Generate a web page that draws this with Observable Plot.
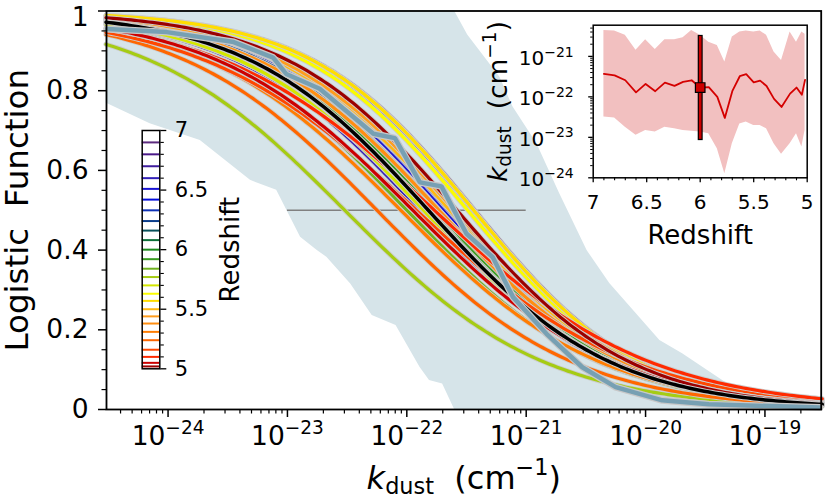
<!DOCTYPE html>
<html><head><meta charset="utf-8">
<script src="https://cdn.jsdelivr.net/npm/d3@7"></script>
<script src="https://cdn.jsdelivr.net/npm/@observablehq/plot@0.6"></script>
<style>
html,body{margin:0;padding:0;background:#fff;}
#wrap{position:relative;width:829px;height:499px;font-family:"DejaVu Sans";}
#wrap svg{position:absolute;}
</style></head><body><div id="wrap"></div>
<script>
// ---- data ----
const redshift = [6.90,6.80,6.70,6.60,6.51,6.42,6.33,6.24,6.16,6.08,6.00,5.92,5.84,5.77,5.70,5.63,5.57,5.50,5.44,5.38,5.31,5.24,5.16,5.10,5.05,5.02];
const logK50   = [-21.43,-21.47,-21.59,-21.89,-21.68,-21.86,-21.65,-21.73,-21.63,-21.59,-21.77,-21.76,-22.00,-22.52,-21.86,-21.49,-21.44,-21.64,-21.60,-21.73,-22.05,-22.25,-21.92,-21.77,-21.95,-21.58];
const slopes   = [0.63,0.63,0.60,0.55,0.58,0.55,0.58,0.57,0.58,0.60,0.56,0.56,0.54,0.52,0.55,0.62,0.63,0.58,0.58,0.56,0.52,0.53,0.48,0.48,0.52,0.60];
const logKUpper= [-20.36,-20.37,-20.48,-20.85,-20.59,-20.83,-20.59,-20.59,-20.54,-20.36,-20.48,-20.65,-20.73,-21.14,-20.52,-20.40,-20.37,-20.40,-20.37,-20.48,-20.89,-21.10,-20.40,-20.65,-20.40,-20.45];
const logKLower= [-22.50,-22.52,-22.75,-22.95,-22.83,-22.87,-22.75,-22.79,-22.83,-22.85,-22.87,-22.91,-23.28,-23.90,-23.16,-22.67,-22.62,-22.71,-22.71,-22.79,-23.16,-23.42,-23.16,-22.91,-23.24,-22.83];
const combinedLogK50 = -21.82, combinedSlope = 0.57;
const errZ = 6.0, errLogK = -21.77, errLogLo = -23.05, errLogHi = -20.51;

const medLogK = [-24.51,-24.01,-23.45,-23.12,-23.01,-22.73,-22.28,-22.10,-21.89,-21.71,-21.50,-21.28,-21.11,-20.83,-20.53,-20.25,-19.86,-19.47,-18.54];
const medF    = [0.955,0.947,0.922,0.883,0.842,0.805,0.692,0.681,0.570,0.560,0.441,0.382,0.282,0.190,0.106,0.056,0.023,0.013,0.005];

const bandUpperLogK = [-24.52,-21.60,-21.49,-21.22,-21.11,-20.91,-20.72,-20.49,-20.30,-19.88,-19.69,-19.27,-18.99,-18.53];
const bandUpperF    = [1,1,0.94,0.834,0.759,0.667,0.542,0.399,0.316,0.173,0.140,0.056,0.031,0.0125];
const bandLowerLogK = [-24.52,-24.15,-23.73,-23.31,-23.09,-22.89,-22.75,-22.67,-22.47,-22.29,-22.09,-21.89,-21.81,-21.70,-21.60,-18.53];
const bandLowerF    = [0.769,0.717,0.675,0.575,0.550,0.432,0.399,0.382,0.315,0.236,0.211,0.106,0.073,0.064,0,0];

const xMajorTicks = [1e-24,1e-23,1e-22,1e-21,1e-20,1e-19];
const yMajorTicks = [0,0.2,0.4,0.6,0.8,1];
const yTickLabels = ["0","0.2","0.4","0.6","0.8","1"];
const insetXTicks = [7,6.5,6,5.5,5];
const insetYTicks = [1e-24,1e-23,1e-22,1e-21];
const cbarTicks = [5,5.5,6,6.5,7];

const colorStops = [5.0,5.05,5.1,5.2,5.3,5.45,5.55,5.62,5.72,5.8,5.9,6.0,6.1,6.17,6.25,6.35,6.45,6.55,6.65,6.8,6.9,7.0];
const colorRange = ["#7a0000","#cc0000","#ff2a00","#ff5a00","#ff7a00","#ffa020","#ffd000","#ffff00","#c8e000","#90c020","#40a020","#1a8a1a","#0a6a40","#0a4d60","#0a3a90","#1030c0","#0000e8","#2a20c8","#3a20a8","#4a1888","#5c2a7e","#602070"];

// ---- helpers ----
function logMinor(lo, hi) {
  const out = [];
  for (let n = -26; n <= -17; n++) for (let m = 2; m <= 9; m++) { const v = m * Math.pow(10, n); if (v >= lo && v <= hi) out.push(v); }
  return out;
}
function linMinor(a, b, step, majors) {
  const out = [];
  for (let v = a; v <= b + 1e-9; v += step) { const r = Math.round(v * 1000) / 1000; if (!majors.some(m => Math.abs(m - r) < 1e-9)) out.push(r); }
  return out;
}
const sup = d => `10{sup:−${-Math.round(Math.log10(d))}}`;
const logistic = (l, l50, s) => 1 / (1 + Math.pow(10, s * (l - l50)));
const grid = d3.range(-24.52, -18.50, 0.03);

const xDomain = [3.05e-25, 2.96e-19];
const colorScale = {type: "linear", domain: colorStops, range: colorRange, interpolate: "rgb"};
const baseStyle = {fontFamily: "DejaVu Sans", background: "transparent", overflow: "visible"};

// ---- main plot ----
const upperPts = bandUpperLogK.map((l, i) => ({k: 10 ** l, f: bandUpperF[i]}));
const lowerPts = bandLowerLogK.map((l, i) => ({k: 10 ** l, f: bandLowerF[i]}));
const medPts = medLogK.map((l, i) => ({k: 10 ** l, f: medF[i]}));

const curveMarks = [];
redshift.forEach((z, i) => {
  const pts = grid.map(l => ({k: 10 ** l, f: logistic(l, logK50[i], slopes[i]), z}));
  curveMarks.push(Plot.line(pts, {x: "k", y: "f", stroke: "#cccccc", strokeWidth: 5}));
  curveMarks.push(Plot.line(pts, {x: "k", y: "f", stroke: d => d.z, strokeWidth: 3.2}));
});
const blackPts = grid.map(l => ({k: 10 ** l, f: logistic(l, combinedLogK50, combinedSlope)}));

const main = Plot.plot({
  width: 829, height: 499,
  marginLeft: 106, marginRight: 8.3, marginTop: 10.5, marginBottom: 90,
  x: {type: "log", domain: xDomain},
  y: {domain: [0, 1]},
  color: colorScale,
  style: baseStyle,
  marks: [
    Plot.areaY(upperPts, {x: "k", y: "f", fill: "#d6e4e9"}),
    Plot.areaY(lowerPts, {x: "k", y: "f", fill: "white"}),
    Plot.ruleY([0.5], {x1: 1e-23, x2: 1e-21, stroke: "#808080", strokeWidth: 1.5}),
    ...curveMarks,
    Plot.line(blackPts, {x: "k", y: "f", stroke: "#cccccc", strokeWidth: 5.5}),
    Plot.line(blackPts, {x: "k", y: "f", stroke: "black", strokeWidth: 3.5}),
    Plot.line(medPts, {x: "k", y: "f", stroke: "#c8c8c8", strokeWidth: 7, strokeLinejoin: "miter"}),
    Plot.line(medPts, {x: "k", y: "f", stroke: "#77a0b3", strokeWidth: 4.5, strokeLinejoin: "miter"}),
    Plot.frame({stroke: "black", strokeWidth: 1.8}),
    Plot.axisX(xMajorTicks, {tickSize: 8, tickPadding: 9, fontSize: 26.5, strokeWidth: 1.5, tickFormat: sup, label: null}),
    Plot.axisX(logMinor(xDomain[0], xDomain[1]), {tickSize: 4.5, strokeWidth: 1.2, tickFormat: () => "", label: null}),
    Plot.axisY(yMajorTicks, {tickSize: 8, tickPadding: 10, fontSize: 26.5, strokeWidth: 1.5, tickFormat: d => yTickLabels[yMajorTicks.indexOf(d)], label: null}),
    Plot.axisY(linMinor(0, 1, 0.05, yMajorTicks), {tickSize: 4.5, strokeWidth: 1.2, tickFormat: () => "", label: null}),
    Plot.text(["{i:k}{sub:dust}  (cm{sup:−1})"], {frameAnchor: "bottom", textAnchor: "middle", lineAnchor: "middle", dy: 69, fontSize: 32}),
    Plot.text(["Logistic  Function"], {frameAnchor: "left", textAnchor: "middle", lineAnchor: "middle", dx: -88.5, rotate: -90, fontSize: 32.5})
  ]
});
main.style.left = "0px"; main.style.top = "0px";

// ---- colour bar ----
const cbar = Plot.plot({
  width: 150, height: 290,
  marginLeft: 41.7, marginRight: 90.7, marginTop: 30, marginBottom: 21.7,
  x: {domain: [0, 1], axis: null},
  y: {domain: [5, 7]},
  color: colorScale,
  style: baseStyle,
  marks: [
    Plot.frame({fill: "white"}),
    Plot.ruleY(redshift, {y: d => d, x1: 0, x2: 1, stroke: d => d, strokeWidth: 2}),
    Plot.frame({stroke: "black", strokeWidth: 1.5}),
    Plot.axisY(cbarTicks, {anchor: "right", tickSize: 6, tickPadding: 9, fontSize: 21, strokeWidth: 1.3, tickFormat: d => String(d), label: null}),
    Plot.axisY(linMinor(5, 7, 0.1, cbarTicks), {anchor: "right", tickSize: 3.5, strokeWidth: 1.1, tickFormat: () => "", label: null}),
    Plot.text(["Redshift"], {frameAnchor: "right", textAnchor: "middle", lineAnchor: "middle", dx: 70.4, rotate: -90, fontSize: 26})
  ]
});
cbar.style.left = "100px"; cbar.style.top = "100px";

// ---- inset ----
const insetPts = redshift.map((z, i) => ({z, k: 10 ** logK50[i], lo: 10 ** logKLower[i], hi: 10 ** logKUpper[i]}));
const errPts = [{z: errZ, k: 10 ** errLogK, lo: 10 ** errLogLo, hi: 10 ** errLogHi}];
const insetYDomain = [1e-24, 5.9e-21];
const inset = Plot.plot({
  width: 345, height: 260,
  marginLeft: 122.7, marginRight: 8.3, marginTop: 24.7, marginBottom: 82.7,
  x: {domain: [7, 5]},
  y: {type: "log", domain: insetYDomain},
  style: baseStyle,
  marks: [
    Plot.areaY(insetPts, {x: "z", y1: "lo", y2: "hi", fill: "#f2c0c0"}),
    Plot.line(insetPts, {x: "z", y: "k", stroke: "#d40000", strokeWidth: 1.8}),
    Plot.ruleX(errPts, {x: "z", y1: d => d.lo * 0.93, y2: d => d.hi * 1.07, stroke: "black", strokeWidth: 5}),
    Plot.ruleX(errPts, {x: "z", y1: "lo", y2: "hi", stroke: "#cc0000", strokeWidth: 2.6}),
    Plot.dot(errPts, {x: "z", y: "k", symbol: "square", r: 5.4, fill: "#cc0000", stroke: "black", strokeWidth: 1.2}),
    Plot.frame({stroke: "black", strokeWidth: 1.5}),
    Plot.axisX(insetXTicks, {tickSize: 5, tickPadding: 11.5, fontSize: 20, strokeWidth: 1.3, tickFormat: d => String(d), label: null}),
    Plot.axisX(linMinor(5, 7, 0.1, insetXTicks), {tickSize: 3, strokeWidth: 1.1, tickFormat: () => "", label: null}),
    Plot.axisY(insetYTicks, {tickSize: 4.5, tickPadding: 15, fontSize: 20, strokeWidth: 1.3, tickFormat: sup, label: null}),
    Plot.axisY(logMinor(insetYDomain[0], insetYDomain[1]), {tickSize: 2.5, strokeWidth: 1, tickFormat: () => "", label: null}),
    Plot.text(["Redshift"], {frameAnchor: "bottom", textAnchor: "middle", lineAnchor: "middle", dy: 57.4, fontSize: 26}),
    Plot.text(["{i:k}{sub:dust}  (cm{sup:−1})"], {frameAnchor: "left", textAnchor: "middle", lineAnchor: "middle", dx: -95, rotate: -90, fontSize: 26.5})
  ]
});
inset.style.left = "470px"; inset.style.top = "0px";

const wrap = document.getElementById("wrap");
wrap.appendChild(main);
wrap.appendChild(inset);
wrap.appendChild(cbar);

// ---- rich text (superscripts / subscripts / italics) ----
function richify(root) {
  root.querySelectorAll("text").forEach(t => {
    const s = t.textContent;
    if (!/\{(i|sub|sup):/.test(s)) return;
    const fs = parseFloat(getComputedStyle(t).fontSize) || 20;
    while (t.firstChild) t.removeChild(t.firstChild);
    const re = /\{(i|sub|sup):([^}]*)\}/g;
    let last = 0, m, shift = 0;
    const add = (txt, kind) => {
      const ts = document.createElementNS("http://www.w3.org/2000/svg", "tspan");
      let target = 0;
      if (kind === "sup") target = -0.42 * fs;
      else if (kind === "sub") target = 0.16 * fs;
      const d = target - shift;
      if (d) ts.setAttribute("dy", d);
      shift = target;
      if (kind === "sup" || kind === "sub") ts.setAttribute("font-size", 0.7 * fs);
      if (kind === "i") ts.setAttribute("font-style", "italic");
      ts.textContent = txt;
      t.appendChild(ts);
    };
    while ((m = re.exec(s))) {
      if (m.index > last) add(s.slice(last, m.index), "n");
      add(m[2], m[1]);
      last = re.lastIndex;
    }
    if (last < s.length) add(s.slice(last), "n");
  });
}
richify(main);
richify(inset);
inset.querySelectorAll('g[aria-label="y-axis tick label"] text').forEach(t => t.setAttribute("y", 8.5));
// keep the top y tick label "1" fully inside the picture
main.querySelectorAll('g[aria-label="y-axis tick label"] text').forEach(t => { if (t.textContent === "1") t.setAttribute("y", 14.5); });
</script>
</body></html>
